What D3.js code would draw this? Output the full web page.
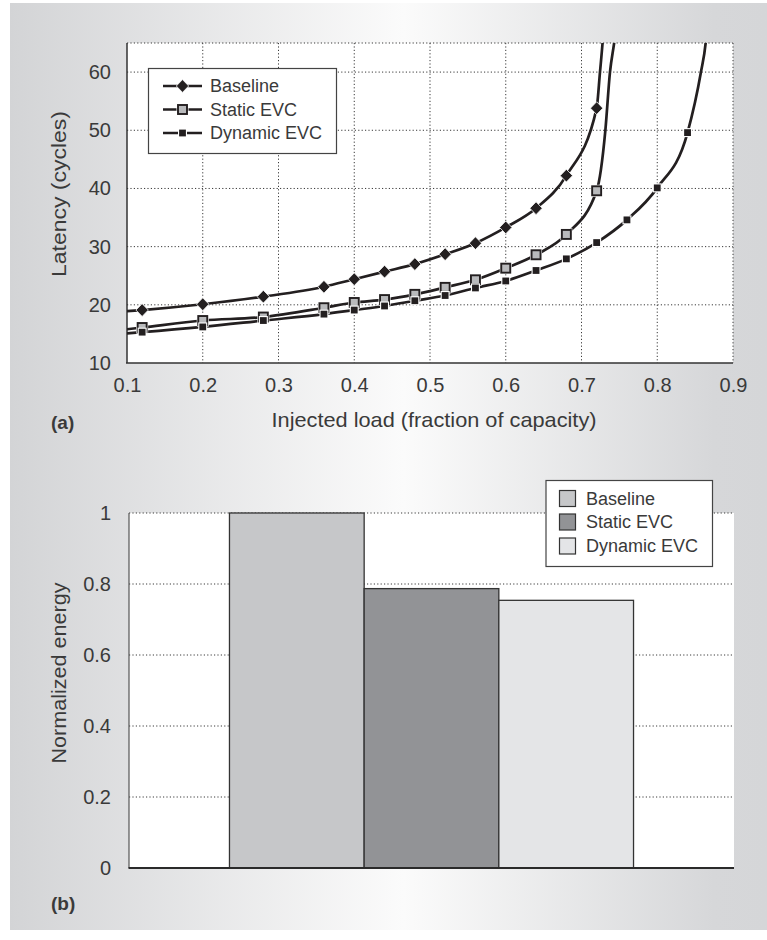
<!DOCTYPE html>
<html><head><meta charset="utf-8">
<script src="https://cdn.jsdelivr.net/npm/d3@7"></script>
<style>
body{margin:0;background:#fff}
svg{display:block}
text{font-family:"Liberation Sans",Arial,Helvetica,sans-serif;fill:#3a3a3a}
</style>
</head><body>
<svg id="c" width="767" height="940"></svg>
<script>
// ---------- Data: (a) latency vs injected load ----------
const seriesNames = ["Baseline", "Static EVC", "Dynamic EVC"];
const loads = [0.12, 0.2, 0.28, 0.36, 0.4, 0.44, 0.48, 0.52, 0.56, 0.6, 0.64, 0.68, 0.72];
const dynamicLoads = [0.12, 0.2, 0.28, 0.36, 0.4, 0.44, 0.48, 0.52, 0.56, 0.6, 0.64, 0.68, 0.72, 0.76, 0.8, 0.84];
const baseline = [19.1, 20.1, 21.4, 23.1, 24.4, 25.7, 27.0, 28.7, 30.6, 33.3, 36.6, 42.2, 53.8];
const staticEVC = [16.1, 17.3, 17.9, 19.5, 20.4, 20.9, 21.8, 23.0, 24.3, 26.3, 28.6, 32.1, 39.6];
const dynamicEVC = [15.3, 16.2, 17.3, 18.4, 19.1, 19.8, 20.7, 21.6, 22.9, 24.1, 25.9, 27.9, 30.7, 34.6, 40.1, 49.6];
// curve continuation at the axis and beyond the top of the plot (no markers)
const baselineStart = [0.1, 18.9];
const staticStart = [0.1, 15.8];
const dynamicStart = [0.1, 15.1];
const baselineTailX = [0.7244, 0.7278, 0.7295];
const baselineTailY = [60, 65, 68];
const staticTailX = [0.7315, 0.7376, 0.7433, 0.746];
const staticTailY = [50, 60, 65.2, 68];
const dynamicTailX = [0.8577, 0.8639, 0.866];
const dynamicTailY = [60, 65, 68];
const loadTicks = [0.1, 0.2, 0.3, 0.4, 0.5, 0.6, 0.7, 0.8, 0.9];
const latencyTicks = [10, 20, 30, 40, 50, 60];

// ---------- Data: (b) normalized energy ----------
const energy = [1.0, 0.787, 0.754];
const energyTicks = [0, 0.2, 0.4, 0.6, 0.8, 1];
const energyTickLabels = ["0", "0.2", "0.4", "0.6", "0.8", "1"];
const barColors = ["#c6c7c9", "#929396", "#e4e5e7"];

const svg = d3.select("#c");
const defs = svg.append("defs");
const grad = defs.append("linearGradient").attr("id", "bg").attr("x1", "0").attr("x2", "1").attr("y1", "0").attr("y2", "0");
grad.append("stop").attr("offset", "0").attr("stop-color", "#d3d4d6");
grad.append("stop").attr("offset", "0.52").attr("stop-color", "#fbfbfb");
grad.append("stop").attr("offset", "0.93").attr("stop-color", "#d6d7d9");
grad.append("stop").attr("offset", "1").attr("stop-color", "#d5d6d8");
svg.append("rect").attr("x", 10).attr("y", 3).attr("width", 757).attr("height", 927).attr("fill", "url(#bg)");

const ink = "#231f20";

// ================= (a) =================
const x = d3.scaleLinear([0.1, 0.9], [127, 733]);
const y = d3.scaleLinear([10, 65], [363, 43]);

defs.append("clipPath").attr("id", "clipA").append("rect")
  .attr("x", x(0.1)).attr("y", y(65)).attr("width", x(0.9) - x(0.1)).attr("height", y(10) - y(65));

const gA = svg.append("g");
gA.append("rect").attr("x", x(0.1)).attr("y", y(65)).attr("width", x(0.9) - x(0.1)).attr("height", y(10) - y(65)).attr("fill", "#fff");

// grid
const dotted = sel => sel.attr("stroke", "#3a3a3a").attr("stroke-width", 1).attr("stroke-dasharray", "1.2,2.2").attr("fill", "none");
gA.selectAll("line.vg").data(loadTicks.slice(1)).join("line")
  .attr("x1", d => x(d)).attr("x2", d => x(d)).attr("y1", y(65)).attr("y2", y(10)).call(dotted);
gA.selectAll("line.hg").data(latencyTicks.slice(1).concat([65])).join("line")
  .attr("x1", x(0.1)).attr("x2", x(0.9)).attr("y1", d => y(d)).attr("y2", d => y(d)).call(dotted);

// axes lines
gA.append("line").attr("x1", x(0.1)).attr("x2", x(0.1)).attr("y1", y(65)).attr("y2", y(10)).attr("stroke", "#333").attr("stroke-width", 1.5);
gA.append("line").attr("x1", x(0.1) - 1).attr("x2", x(0.9)).attr("y1", y(10)).attr("y2", y(10)).attr("stroke", "#333").attr("stroke-width", 1.5);

// tick labels via axes
const axL = gA.append("g").attr("transform", `translate(${x(0.1)},0)`)
  .call(d3.axisLeft(y).tickValues(latencyTicks).tickSize(0).tickPadding(16).tickFormat(d3.format("d")));
const axB = gA.append("g").attr("transform", `translate(0,${y(10)})`)
  .call(d3.axisBottom(x).tickValues(loadTicks).tickSize(0).tickPadding(15).tickFormat(d3.format(".1f")));
[axL, axB].forEach(a => {
  a.select(".domain").remove();
  a.selectAll("text").attr("font-size", 20).attr("fill", "#3a3a3a").attr("font-family", '"Liberation Sans",Arial,sans-serif');
});

// series
const line = d3.line().x(d => x(d[0])).y(d => y(d[1])).curve(d3.curveMonotoneX);
function pts(start, xs, ys, tx, ty) {
  const p = [start];
  xs.forEach((v, i) => p.push([v, ys[i]]));
  tx.forEach((v, i) => p.push([v, ty[i]]));
  return p;
}
const series = [
  {name: "Baseline", pts: pts(baselineStart, loads, baseline, baselineTailX, baselineTailY), mx: loads, my: baseline, marker: "diamond"},
  {name: "Static EVC", pts: pts(staticStart, loads, staticEVC, staticTailX, staticTailY), mx: loads, my: staticEVC, marker: "square"},
  {name: "Dynamic EVC", pts: pts(dynamicStart, dynamicLoads, dynamicEVC, dynamicTailX, dynamicTailY), mx: dynamicLoads, my: dynamicEVC, marker: "small"}
];

function drawMarker(g, type, cx, cy) {
  if (type === "diamond") {
    g.append("path").attr("d", `M${cx},${cy - 6.4}L${cx + 6.2},${cy}L${cx},${cy + 6.4}L${cx - 6.2},${cy}Z`)
      .attr("fill", ink).attr("stroke", "#fff").attr("stroke-width", 0.8);
  } else if (type === "square") {
    g.append("rect").attr("x", cx - 6).attr("y", cy - 6).attr("width", 12).attr("height", 12).attr("fill", "#fff");
    g.append("rect").attr("x", cx - 4.5).attr("y", cy - 4.5).attr("width", 9).attr("height", 9)
      .attr("fill", "#b9babc").attr("stroke", ink).attr("stroke-width", 1.9);
  } else {
    g.append("rect").attr("x", cx - 4.5).attr("y", cy - 4.5).attr("width", 9).attr("height", 9).attr("fill", "#fff");
    g.append("rect").attr("x", cx - 3.4).attr("y", cy - 3.4).attr("width", 6.8).attr("height", 6.8).attr("fill", ink);
  }
}

const gS = gA.append("g").attr("clip-path", "url(#clipA)");
series.forEach(s => {
  gS.append("path").attr("d", line(s.pts)).attr("fill", "none").attr("stroke", ink).attr("stroke-width", 2.7);
});
series.forEach(s => {
  const gm = gA.append("g");
  s.mx.forEach((v, i) => drawMarker(gm, s.marker, x(v), y(s.my[i])));
});

// legend (a)
const lgA = gA.append("g");
lgA.append("rect").attr("x", 148.5).attr("y", 68.5).attr("width", 188).attr("height", 85).attr("fill", "#fff").attr("stroke", "#444").attr("stroke-width", 1.2);
const rowsA = [86, 109.5, 133];
series.forEach((s, i) => {
  const ry = rowsA[i];
  lgA.append("line").attr("x1", 163).attr("x2", 202).attr("y1", ry).attr("y2", ry).attr("stroke", ink).attr("stroke-width", 2.7);
  drawMarker(lgA, s.marker, 182.5, ry);
  lgA.append("text").attr("x", 210).attr("y", ry).attr("dy", "0.36em").attr("font-size", 18).text(s.name);
});

// axis titles (a)
svg.append("text").attr("transform", "translate(66,194) rotate(-90)").attr("text-anchor", "middle")
  .attr("font-size", 21).attr("textLength", 166).attr("lengthAdjust", "spacingAndGlyphs").text("Latency (cycles)");
svg.append("text").attr("x", 434).attr("y", 427).attr("text-anchor", "middle")
  .attr("font-size", 21).attr("textLength", 325).attr("lengthAdjust", "spacingAndGlyphs").text("Injected load (fraction of capacity)");
svg.append("text").attr("x", 51).attr("y", 429).attr("font-size", 19).attr("font-weight", "bold").attr("fill", "#2a2a2a").text("(a)");

// ================= (b) =================
const y2 = d3.scaleLinear([0, 1], [868, 513]);
const xb = d3.scaleBand(seriesNames, [129, 734]).paddingInner(0).paddingOuter(0.746);
const gB = svg.append("g");
gB.append("rect").attr("x", 129).attr("y", y2(1)).attr("width", 734 - 129).attr("height", y2(0) - y2(1)).attr("fill", "#fff");
gB.selectAll("line.hg").data(energyTicks.slice(1)).join("line")
  .attr("x1", 129).attr("x2", 734).attr("y1", d => y2(d)).attr("y2", d => y2(d)).call(dotted);

gB.selectAll("rect.bar").data(seriesNames).join("rect")
  .attr("x", d => xb(d)).attr("width", xb.bandwidth())
  .attr("y", (d, i) => y2(energy[i])).attr("height", (d, i) => y2(0) - y2(energy[i]))
  .attr("fill", (d, i) => barColors[i]).attr("stroke", "#333").attr("stroke-width", 1.3);

gB.append("line").attr("x1", 129).attr("x2", 129).attr("y1", y2(1)).attr("y2", y2(0)).attr("stroke", "#555").attr("stroke-width", 1.2);
gB.append("line").attr("x1", 128.5).attr("x2", 734).attr("y1", y2(0)).attr("y2", y2(0)).attr("stroke", "#2a2a2a").attr("stroke-width", 2);

const axL2 = gB.append("g").attr("transform", "translate(129,0)")
  .call(d3.axisLeft(y2).tickValues(energyTicks).tickSize(0).tickPadding(18).tickFormat((d, i) => energyTickLabels[i]));
axL2.select(".domain").remove();
axL2.selectAll("text").attr("font-size", 20).attr("fill", "#3a3a3a").attr("font-family", '"Liberation Sans",Arial,sans-serif');

// legend (b)
const lgB = gB.append("g");
lgB.append("rect").attr("x", 546).attr("y", 480.5).attr("width", 166.5).attr("height", 86).attr("fill", "#fff").attr("stroke", "#444").attr("stroke-width", 1.2);
const rowsB = [498.5, 522, 546];
seriesNames.forEach((n, i) => {
  lgB.append("rect").attr("x", 559.5).attr("y", rowsB[i] - 8).attr("width", 16).attr("height", 16)
    .attr("fill", barColors[i]).attr("stroke", "#333").attr("stroke-width", 1.2);
  lgB.append("text").attr("x", 586).attr("y", rowsB[i]).attr("dy", "0.36em").attr("font-size", 18).text(n);
});

svg.append("text").attr("transform", "translate(66,673) rotate(-90)").attr("text-anchor", "middle")
  .attr("font-size", 21).attr("textLength", 181).attr("lengthAdjust", "spacingAndGlyphs").text("Normalized energy");
svg.append("text").attr("x", 51).attr("y", 910).attr("font-size", 19).attr("font-weight", "bold").attr("fill", "#2a2a2a").text("(b)");
</script>
</body></html>
